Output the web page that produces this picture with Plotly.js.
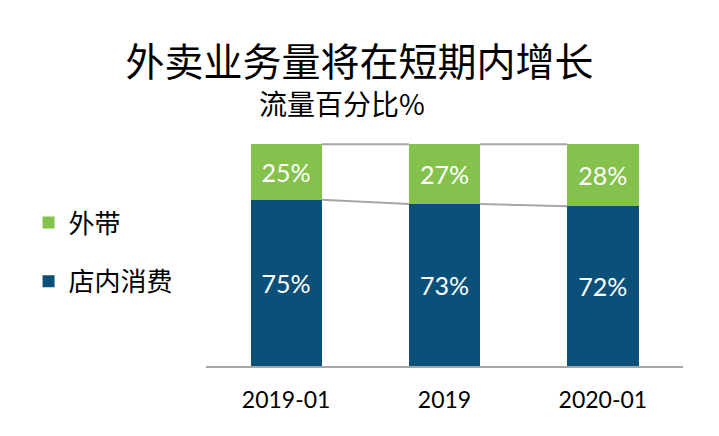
<!DOCTYPE html>
<html><head><meta charset="utf-8">
<script src="https://cdn.plot.ly/plotly-3.0.1.min.js"></script>
<style>html,body{margin:0;padding:0;background:#fff}</style>
</head><body><div id="chart" style="width:719px;height:436px"></div>
<script>
const categories = ['2019-01', '2019', '2020-01'];
const dineIn = [75, 73, 72];
const takeaway = [25, 27, 28];
const seriesNames = ['店内消费', '外带'];
const titleText = '外卖业务量将在短期内增长';
const subtitleText = '流量百分比%';

const xpos = categories.map((c, i) => i);
const barWidth = 0.45;
const totals = dineIn.map((v, i) => v + takeaway[i]);
const numFont = 'Lato, "Noto Sans", "Noto Sans CJK SC", sans-serif';
const cjkFont = '"Noto Sans CJK SC", "Noto Sans", sans-serif';

function connector(vals) {
  const xs = [], ys = [];
  for (let i = 0; i < vals.length - 1; i++) {
    xs.push(xpos[i] + barWidth / 2, xpos[i + 1] - barWidth / 2, null);
    ys.push(vals[i], vals[i + 1], null);
  }
  return {x: xs, y: ys};
}
const c1 = connector(dineIn);
const c2 = connector(totals);

const traces = [
  {type: 'bar', name: seriesNames[0], x: xpos, y: dineIn, width: barWidth,
   marker: {color: '#0b5078'}, legendgroup: 'a', legendrank: 2,
   text: dineIn.map(v => v + '%'), textposition: 'inside', insidetextanchor: 'middle',
   constraintext: 'none', textangle: 0,
   textfont: {family: numFont, size: 25, color: '#ffffff'}, hoverinfo: 'skip'},
  {type: 'bar', name: seriesNames[1], x: xpos, y: takeaway, width: barWidth,
   marker: {color: '#84c14d'}, legendgroup: 'b', legendrank: 1,
   text: takeaway.map(v => v + '%'), textposition: 'inside', insidetextanchor: 'middle',
   constraintext: 'none', textangle: 0,
   textfont: {family: numFont, size: 25, color: '#ffffff'}, hoverinfo: 'skip'},
  {type: 'scatter', mode: 'lines', x: c1.x.concat(c2.x), y: c1.y.concat(c2.y),
   line: {color: '#a6a6a6', width: 2}, showlegend: false, hoverinfo: 'skip',
   connectgaps: false}
];

const layout = {
  width: 719, height: 436,
  margin: {l: 206, r: 36, t: 142, b: 70},
  paper_bgcolor: '#ffffff', plot_bgcolor: '#ffffff',
  barmode: 'stack',
  showlegend: true,
  legend: {x: -0.372, xanchor: 'left', y: 0.745, yanchor: 'top',
           traceorder: 'grouped', tracegroupgap: 22,
           font: {family: cjkFont, size: 26, color: '#000'}},
  title: {text: titleText, x: 0.5, xref: 'container', xanchor: 'center',
          y: 1 - 62 / 436, yref: 'container', yanchor: 'middle',
          font: {family: cjkFont, size: 39, color: '#000'}},
  xaxis: {range: [-0.506, 2.506], tickvals: xpos, ticktext: categories,
          showline: true, linecolor: '#a6a6a6', linewidth: 2, showgrid: false,
          zeroline: false, ticks: '', fixedrange: true, ticklabelstandoff: 12,
          tickfont: {family: numFont, size: 23, color: '#000'}},
  yaxis: {range: [0, 101], visible: false, fixedrange: true},
  annotations: [
    {text: subtitleText, xref: 'paper', yref: 'paper', x: 0.285, y: (366 - 103) / 224,
     xanchor: 'center', yanchor: 'middle', showarrow: false,
     font: {family: cjkFont, size: 28, color: '#000'}}
  ]
};

Plotly.newPlot('chart', traces, layout, {staticPlot: true, displayModeBar: false});
</script></body></html>
